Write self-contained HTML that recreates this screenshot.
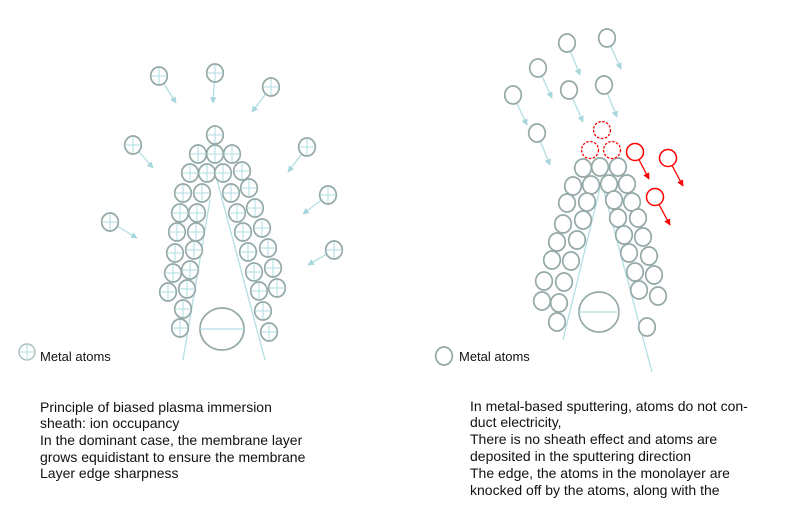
<!DOCTYPE html>
<html><head><meta charset="utf-8"><style>
html,body{margin:0;padding:0;background:#fff;}
svg{display:block;}
text{font-family:"Liberation Sans",Arial,sans-serif;font-size:14px;fill:#111;}
</style></head><body>
<svg id="s" width="800" height="529" viewBox="0 0 800 529" xmlns="http://www.w3.org/2000/svg">
<defs>
<marker id="ac" viewBox="0 0 10 10" refX="9" refY="5" markerWidth="5" markerHeight="5" orient="auto"><path d="M0,0 L10,5 L0,10 z" fill="#a6d6db"/></marker>
<marker id="ar" viewBox="0 0 10 10" refX="9" refY="5" markerWidth="5" markerHeight="5" orient="auto"><path d="M0,0 L10,5 L0,10 z" fill="#f00"/></marker>
</defs>
<g id="g"></g>
<text x="40" y="361" style="font-size:13px">Metal atoms</text>
<text x="459" y="361" style="font-size:13px">Metal atoms</text>
<text x="40" y="412">Principle of biased plasma immersion</text>
<text x="40" y="428">sheath: ion occupancy</text>
<text x="40" y="445">In the dominant case, the membrane layer</text>
<text x="40" y="462">grows equidistant to ensure the membrane</text>
<text x="40" y="478">Layer edge sharpness</text>
<text x="470" y="411">In metal-based sputtering, atoms do not con-</text>
<text x="470" y="427">duct electricity,</text>
<text x="470" y="444">There is no sheath effect and atoms are</text>
<text x="470" y="461">deposited in the sputtering direction</text>
<text x="470" y="478">The edge, the atoms in the monolayer are</text>
<text x="470" y="495">knocked off by the atoms, along with the</text>
</svg>
<script>
var G=document.getElementById('g'),h='';
var GR='#95a9a9',CY='#b3dfe3';
function ln(a,b,c,d,m){h+='<line x1="'+a+'" y1="'+b+'" x2="'+c+'" y2="'+d+'" stroke="'+(m=='r'?'#f00':CY)+'" stroke-width="1.3"'+(m?' marker-end="url(#a'+m+')"':'')+'/>';}
function cc(x,y,cross){
 h+='<ellipse cx="'+x+'" cy="'+y+'" rx="8.3" ry="9" fill="#fff" stroke="'+GR+'" stroke-width="1.7"/>';
 if(cross){h+='<line x1="'+(x-7)+'" y1="'+y+'" x2="'+(x+7)+'" y2="'+y+'" stroke="'+CY+'" stroke-width="1.1"/><line x1="'+x+'" y1="'+(y-8)+'" x2="'+x+'" y2="'+(y+8)+'" stroke="'+CY+'" stroke-width="1.1"/>';}
}
ln(210,200,183,360);ln(217,180,265,360);
var L=[[215,135],[198,154],[215,154],[232,154],[190,173],[207,173],[223,173],[242,171],[183,193],[202,193],[231,193],[249,188],[180,213],[197,213],[237,213],[255,208],[177,232],[196,232],[243,232],[262,228],[175,253],[194,250],[248,252],[268,248],[173,273],[190,270],[254,272],[273,268],[168,292],[187,289],[259,291],[277,288],[183,309],[263,311],[180,328],[269,332]];
L.forEach(function(p){cc(p[0],p[1],1);});
h+='<ellipse cx="222" cy="329" rx="22" ry="21" fill="none" stroke="'+GR+'" stroke-width="1.7"/><line x1="200" y1="329" x2="244" y2="329" stroke="'+CY+'" stroke-width="1.3"/>';
var O=[[159,76,176,103],[215,73,213,103],[271,87,252,112],[133,145,153,168],[307,147,288,172],[328,195,303,214],[110,222,137,238],[334,250,308,265]];
O.forEach(function(o){ln(o[0],o[1],o[2],o[3],'c');cc(o[0],o[1],1);});
h+='<circle cx="27" cy="352" r="8" fill="#fff" stroke="#a9c0c0" stroke-width="1.4"/><line x1="20" y1="352" x2="34" y2="352" stroke="'+CY+'"/><line x1="27" y1="345" x2="27" y2="359" stroke="'+CY+'"/>';
ln(600,188,563,340);ln(603,188,652,372);
var R=[[583,168],[600,167],[618,167],[573,186],[591,185],[609,184],[627,184],[567,203],[587,202],[614,200],[632,202],[563,224],[583,220],[618,218],[638,218],[557,242],[577,240],[624,235],[643,237],[552,260],[571,261],[629,253],[649,256],[544,281],[564,282],[635,272],[654,275],[542,301],[559,303],[639,290],[658,296],[557,322],[647,327]];
R.forEach(function(p){cc(p[0],p[1],0);});
h+='<ellipse cx="599" cy="312" rx="20" ry="20" fill="none" stroke="'+GR+'" stroke-width="1.7"/><line x1="579" y1="312" x2="619" y2="312" stroke="'+CY+'" stroke-width="1.3"/>';
var RO=[[567,43,580,75],[607,38,621,69],[538,68,552,98],[569,90,583,122],[604,85,617,117],[513,95,527,125],[537,133,550,165]];
RO.forEach(function(o){ln(o[0],o[1],o[2],o[3],'c');cc(o[0],o[1],0);});
[[602,130],[590,150],[612,150]].forEach(function(p){h+='<circle cx="'+p[0]+'" cy="'+p[1]+'" r="8.5" fill="#fff" stroke="#f00" stroke-width="1.3" stroke-dasharray="2.5,1.5"/>';});
[[635,152,649,179],[668,158,683,186],[655,197,670,225]].forEach(function(o){ln(o[0],o[1],o[2],o[3],'r');h+='<circle cx="'+o[0]+'" cy="'+o[1]+'" r="8.5" fill="#fff" stroke="#f00" stroke-width="1.5"/>';});
cc(444,356,0);
G.innerHTML=h;
</script>
</body></html>
